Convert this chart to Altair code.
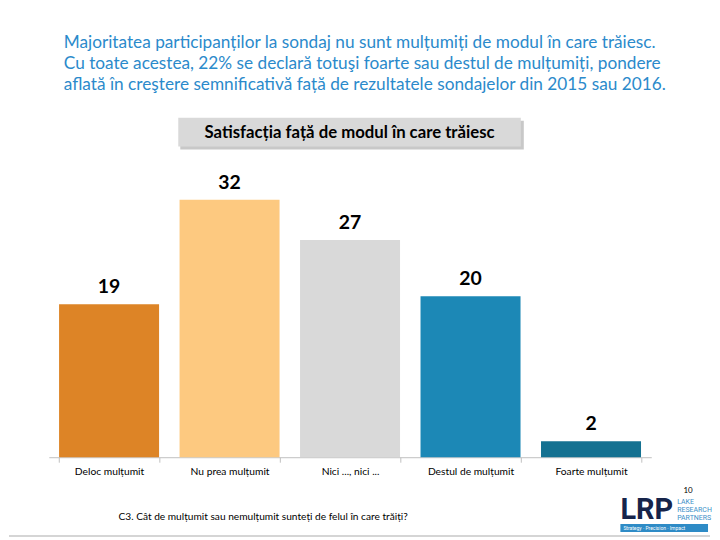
import altair as alt
import pandas as pd

categories = ["Deloc mulțumit", "Nu prea mulțumit", "Nici ..., nici ...", "Destul de mulțumit", "Foarte mulțumit"]
values = [19, 32, 27, 20, 2]
colors = ["#DD8426", "#FDC980", "#D9D9D9", "#1C88B6", "#147191"]

title_lines = [
    "Majoritatea participanților la sondaj nu sunt mulțumiți de modul în care trăiesc.",
    "Cu toate acestea, 22% se declară totuşi foarte sau destul de mulțumiți, pondere",
    "aflată în creştere semnificativă față de rezultatele sondajelor din 2015 sau 2016.",
]
box_title = "Satisfacția față de modul în care trăiesc"
footnote = "C3. Cât de mulțumit sau nemulțumit sunteți de felul  în care trăiți?"
page_number = "10"
logo_main = "LRP"
logo_side = ["LAKE", "RESEARCH", "PARTNERS"]
logo_tagline = "Strategy · Precision · Impact"

FONT = "Lato"

df = pd.DataFrame({"cat": categories, "val": values, "color": colors})

x = alt.X(
    "cat:N",
    sort=categories,
    scale=alt.Scale(range=[40, 645], paddingInner=0.17, paddingOuter=0.085),
    axis=alt.Axis(
        title=None, labelAngle=0, domainColor="#BFBFBF", tickColor="#BFBFBF",
        tickSize=5, tickBand="extent", labelFont=FONT, labelFontSize=10.3,
        labelColor="#000000", labelPadding=4, domainWidth=1,
    ),
)
y = alt.Y("val:Q", scale=alt.Scale(domain=[0, 55.7]), axis=None)

bars = alt.Chart(df).mark_bar().encode(
    x=x, y=y, color=alt.Color("color:N", scale=None)
)
val_labels = alt.Chart(df).mark_text(
    baseline="bottom", dy=-7, fontSize=19.5, fontWeight="bold", font=FONT, color="#000000"
).encode(x=x, y=y, text="val:Q")

one = pd.DataFrame({"a": [0]})

title = alt.Chart(one).mark_text(
    align="left", baseline="top", fontSize=17.3, font=FONT, color="#2B8ACB", lineHeight=21
).encode(x=alt.value(55), y=alt.value(25), text=alt.value(title_lines))

box_shadow = alt.Chart(one).mark_rect(color="#9A9A9A", opacity=0.55).encode(
    x=alt.value(172), x2=alt.value(517), y=alt.value(112), y2=alt.value(141)
)
box = alt.Chart(one).mark_rect(color="#D9D9D9").encode(
    x=alt.value(170), x2=alt.value(514), y=alt.value(109), y2=alt.value(138)
)
box_text = alt.Chart(one).mark_text(
    align="center", baseline="middle", fontSize=16.8, fontWeight="bold", font=FONT, color="#000000"
).encode(x=alt.value(342), y=alt.value(124), text=alt.value(box_title))

foot = alt.Chart(one).mark_text(
    align="left", baseline="middle", fontSize=10.2, font=FONT, color="#000000"
).encode(x=alt.value(110), y=alt.value(510), text=alt.value(footnote))

pnum = alt.Chart(one).mark_text(
    align="center", baseline="middle", fontSize=8, font=FONT, color="#000000"
).encode(x=alt.value(682), y=alt.value(484), text=alt.value(page_number))

logo = alt.Chart(one).mark_text(
    align="left", baseline="alphabetic", fontSize=29, fontWeight="bold", font="Roboto",
    color="#16244A",
).encode(x=alt.value(614), y=alt.value(512), text=alt.value(logo_main))

logo_s = alt.Chart(one).mark_text(
    align="left", baseline="top", fontSize=7, font="Roboto", color="#3A8FC8", lineHeight=8
).encode(x=alt.value(671), y=alt.value(491), text=alt.value(logo_side))

band = alt.Chart(one).mark_rect(color="#2E8BC6").encode(
    x=alt.value(614), x2=alt.value(702), y=alt.value(517), y2=alt.value(525)
)
band_t = alt.Chart(one).mark_text(
    align="left", baseline="middle", fontSize=5, font="Roboto", color="#FFFFFF"
).encode(x=alt.value(617), y=alt.value(521), text=alt.value(logo_tagline))

frame = alt.Chart(one).mark_rule(color="#D5D5D5", strokeWidth=2).encode(
    x=alt.value(0), x2=alt.value(704), y=alt.value(529)
)

chart = alt.layer(
    frame, title, box_shadow, box, box_text, bars, val_labels, foot, pnum,
    logo, logo_s, band, band_t,
).properties(
    width=704, height=450, padding=0
).configure_view(stroke=None)

chart.save("out.html", embed_options={"renderer": "svg", "actions": False})
